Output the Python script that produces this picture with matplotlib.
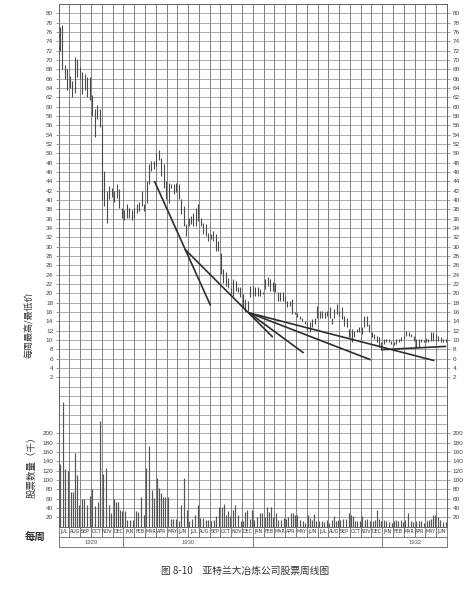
import matplotlib

matplotlib.use("Agg")
import matplotlib.pyplot as plt

plt.rcParams["font.family"] = ["Noto Sans CJK SC", "DejaVu Sans"]

# month axis: JUL 1929 .. JUN 1932 (36 columns)
MONTHS = ["JUL", "AUG", "SEP", "OCT", "NOV", "DEC",
          "JAN", "FEB", "MAR", "APR", "MAY", "JUN"] * 3
# (label, first month, end month) -- 1931 label is hidden under the watermark in the scan
YEARS = [("1929", 0, 6), ("1930", 6, 18), ("1931", 18, 30), ("1932", 30, 36)]
YEAR_SHOWN = ["1929", "1930", "1932"]

# weekly high / low prices
week_high = [
    77, 77.5, 69, 68, 66.5, 65.5, 70.7, 70.3, 68.5, 67.5, 67, 66.4, 66.4, 62.4, 59.6, 60.3,
    59.6, 56, 46.2, 41.9, 43, 42.6, 42, 43.4, 42.4, 38.3, 37.9, 39.1, 38.3, 37.9, 38.3, 39.1,
    39.6, 41.9, 39.1, 44, 47.7, 48.3, 48.3, 50, 50.8, 49, 47.7, 44, 43.7, 43.4, 43.4, 43.7,
    43.4, 40.2, 38.7, 34.9, 36.1, 36.6, 37.2, 38.3, 39.1, 36.1, 35.1, 34.9, 32.9, 32.7, 33.3,
    32.7, 31.2, 28.7, 25.2, 24.5, 23.3, 21.2, 23.1, 22.7,
    21.3, 21.3, 19.8, 18.8, 18.4, 21.6, 21.6, 21.3, 21.3, 20.9, 20.2, 23, 23.4, 23, 22.5,
    22.3, 20.2, 20.2, 20.2, 19.5, 18.4, 18.4, 18.8, 15.9, 15.8, 15.2, 14.8, 14.1, 13.8, 13.8,
    14.5, 14.8, 17.3, 16.3, 16.3, 15.9, 16.3, 17, 14.8, 16.6, 17.7, 16.3, 17, 15.2, 14.8,
    12.3, 12.3, 12, 12.3, 12.7, 12.7, 15.2, 15.2, 13.4, 11.6, 11.3, 10.9, 10.6, 9.5, 10.2,
    10.2, 10.2, 9.8, 9.5, 10.2, 10.2, 10.6, 10.9, 12, 11.6, 11.3, 10.8, 10.2, 10.2, 10.2,
    10, 10.3, 10.2, 11.6, 11.6, 11.3, 10.9, 10.6, 10.2, 10.2,
]
week_low = [
    72, 68, 66, 63.5, 64, 62, 63, 66.4, 66, 62.8, 63.5, 62, 61.4, 58, 53.5, 57.4,
    55.6, 40, 38.7, 35.1, 40.2, 40.6, 39.5, 40.4, 38.3, 36.1, 35.8, 36.1, 36.1, 35.8, 36.1, 37.2,
    37.6, 38.7, 37.6, 39.4, 43.4, 46.2, 46.6, 47.3, 48.5, 45.1, 42.6, 40.2, 39.4, 42.6, 41.3, 41.6,
    40.2, 37, 34.4, 32.3, 34.4, 34.9, 34.4, 34.4, 35.5, 34.4, 32.7, 32.3, 31.2, 31.6, 31.2,
    29.1, 29.1, 24.2, 22.2, 21.6, 21.2, 19.8, 19.5, 20.5,
    20.2, 19.1, 17, 15.9, 16.3, 19.1, 19.5, 19.5, 19.5, 19.5, 19.8, 20.9, 21.6, 20.5, 20.5,
    20.2, 18.4, 18.4, 18.4, 18, 17, 17.3, 15.5, 15.5, 15, 14.5, 14.1, 13.4, 12, 11.6,
    12.7, 13.4, 14.8, 14.8, 14.8, 14.8, 15.2, 14.8, 13.4, 14.8, 15.5, 15.2, 14.5, 13, 12.7,
    10.6, 9.5, 10.6, 11.6, 11.6, 11.3, 12.7, 13, 11.6, 10.6, 10.2, 9.5, 8.4, 8.1, 9.1,
    9.5, 9.5, 9.1, 8.8, 9.1, 9.5, 9.8, 10.2, 10.9, 10.9, 10.6, 9.8, 8.4, 8.4, 9.5,
    9.5, 9.6, 9.5, 9.8, 9.8, 9.8, 9.8, 9.5, 9.5, 9.5,
]

# weekly volume (thousand shares), one list per month
volume = [
    [135, 267, 124, 119], [75, 75, 157, 110, 46], [59, 59, 46, 65], [80, 44, 53, 226],
    [113, 125, 46, 28], [59, 52, 52, 35, 33],
    [34, 14, 14, 14], [34, 31, 64, 25], [125, 173, 78, 62], [103, 82, 71, 64, 64],
    [64, 17, 17, 17], [12, 46, 103, 35], [12, 16, 25, 46], [19, 19, 14, 13],
    [11, 14, 23, 42], [42, 48, 25, 33, 23], [35, 46, 25, 11], [11, 31, 35, 17, 35],
    [14, 21, 28, 28], [21, 41, 32, 42, 21], [28, 14, 14, 18], [16, 21, 28, 30, 25],
    [25, 14, 11, 7], [25, 18, 14, 27, 11], [11, 11, 9, 14], [7, 14, 23, 11, 14],
    [14, 16, 16, 28], [25, 23, 11, 11, 11], [23, 14, 16, 11], [11, 14, 35, 16, 11],
    [14, 12, 9, 7], [11, 14, 11, 14, 9], [14, 28, 11, 9], [12, 11, 11, 7],
    [11, 14, 16, 25, 25], [21, 14, 9, 9],
]

# hand-drawn trend lines: (month, price) start -> end
trend_lines = [
    ((8.9, 43.9), (14.05, 17.5)),
    ((11.75, 29.3), (19.8, 10.7)),
    ((17.65, 15.8), (22.65, 7.3)),
    ((17.65, 15.8), (28.85, 5.8)),
    ((17.65, 15.8), (34.75, 5.6)),
    ((29.95, 7.9), (35.85, 8.6)),
]

price_ticks = list(range(2, 81, 2))
vol_ticks = list(range(20, 201, 20))

VOL_BASE = -30  # volume zero sits 15 grid rows below price zero
VOL_SCALE = 10  # 20k shares per grid row (2 price units)
W, H = 477, 591


def vy(v):
    return VOL_BASE + v / VOL_SCALE


fig = plt.figure(figsize=(W / 100, H / 100), dpi=100)
ax = fig.add_axes([58.7 / W, 1 - 526.5 / H, (447 - 58.7) / W, (526.5 - 4) / H])
ax.set_xlim(0, 36)
ax.set_ylim(VOL_BASE, 82)

ax.hlines(range(VOL_BASE, 83, 2), 0, 36, color="#8c8c8c", lw=0.5, zorder=1)
ax.vlines(range(37), VOL_BASE, 82, color="#6e6e6e", lw=0.6, zorder=1)
for s in ax.spines.values():
    s.set_color("#666666")
    s.set_linewidth(0.7)

# price bars
n = len(week_high)
xs = [(i + 0.5) * 36 / n for i in range(n)]
ax.vlines(xs, week_low, week_high, color="#4a4a4a", lw=0.8, zorder=3)

# volume bars
vx, vv = [], []
for m, wk in enumerate(volume):
    for j, v in enumerate(wk):
        vx.append(m + (j + 0.5) / len(wk))
        vv.append(vy(v))
ax.vlines(vx, VOL_BASE, vv, color="#555555", lw=0.85, zorder=3)

for (x0, y0), (x1, y1) in trend_lines:
    ax.plot([x0, x1], [y0, y1], color="#2e2e2e", lw=1.2, zorder=4)

ticks = price_ticks + [vy(v) for v in vol_ticks]
labels = [str(p) for p in price_ticks] + [str(v) for v in vol_ticks]
ax.set_yticks(ticks, labels)
ax.set_xticks([])
ax.tick_params(axis="y", left=True, right=True, labelleft=True, labelright=True,
               length=2.5, width=0.5, color="#777777", labelsize=4.6,
               labelcolor="#444444", pad=1.5)
for t in ax.get_yticklabels():
    t.set_family(["Liberation Sans", "DejaVu Sans"])

# month and year rows under the volume panel
row1 = VOL_BASE - 2.25
row2 = VOL_BASE - 4.4
kw = dict(color="#666666", lw=0.6, clip_on=False)
ax.plot([0, 36], [row1, row1], **kw)
ax.plot([0, 36], [row2, row2], **kw)
ax.vlines(range(37), row1, VOL_BASE, **kw)
ax.vlines([0, 6, 18, 30, 36], row2, row1, **kw)
for m, lab in enumerate(MONTHS):
    ax.text(m + 0.5, (VOL_BASE + row1) / 2, lab, ha="center", va="center", fontsize=3.4,
            family=["Liberation Sans Narrow", "DejaVu Sans"], color="#333333")
for lab, a, b in YEARS:
    if lab in YEAR_SHOWN:
        ax.text((a + b) / 2, (row1 + row2) / 2, lab, ha="center", va="center",
                fontsize=4.2, family=["Liberation Sans", "DejaVu Sans"], color="#555555")

fig.text(30 / W, 1 - 325 / H, "每周最高/最低价", rotation=90, ha="center", va="center",
         fontsize=6.5, color="#333333")
fig.text(32 / W, 1 - 465 / H, "股票数量（千）", rotation=90, ha="center", va="center",
         fontsize=6.8, color="#333333")
fig.text(35 / W, 1 - 537 / H, "每周", ha="center", va="center", fontsize=7.5,
         weight="bold", color="#333333")
fig.text(245 / W, 1 - 571 / H, "图 8-10\u3000亚特兰大冶炼公司股票周线图", ha="center",
         va="center", fontsize=7, color="#333333")

fig.savefig("out.png", dpi=100, facecolor="white")
plt.close(fig)
